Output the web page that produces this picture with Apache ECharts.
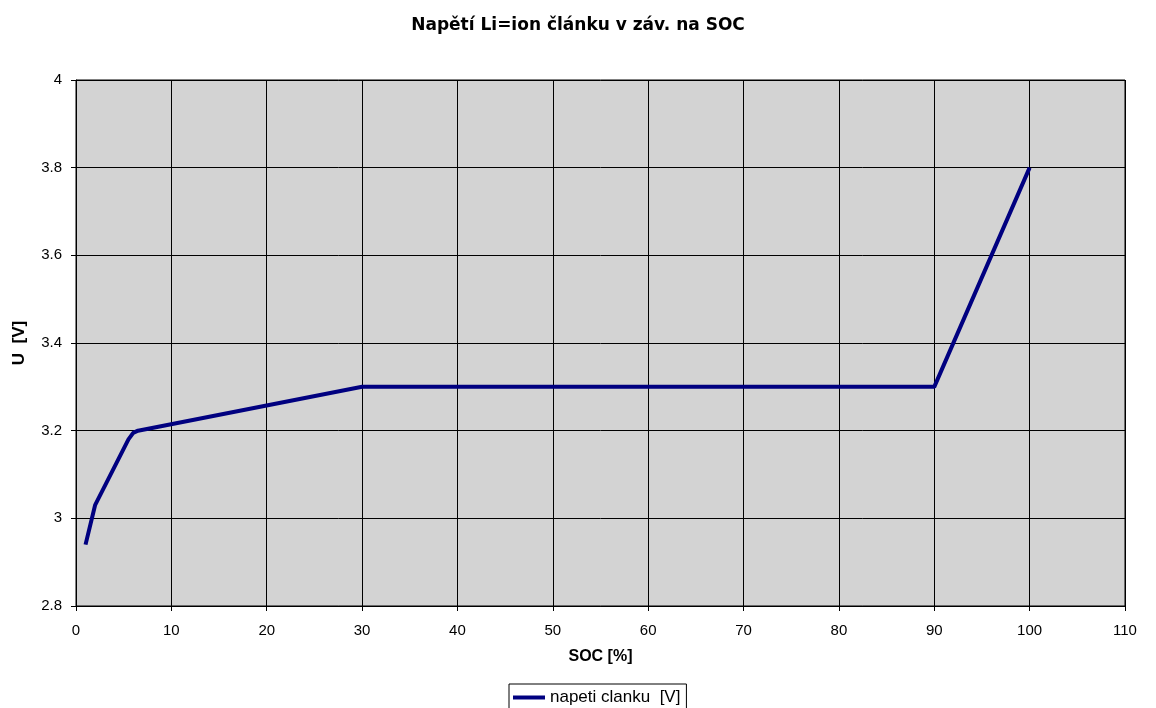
<!DOCTYPE html>
<html><head><meta charset="utf-8">
<script src="https://cdn.jsdelivr.net/npm/echarts@6/dist/echarts.min.js"></script>
<style>html,body{margin:0;padding:0;background:#fff}#c{width:1156px;height:708px}</style>
</head><body><div id="c"></div>
<script>
const socValues = [1, 2, 5.5, 6, 6.5, 30, 90, 100];
const voltageValues = [2.94, 3.03, 3.18, 3.195, 3.2, 3.3, 3.3, 3.8];
const seriesName = 'napeti clanku  [V]';
const titleText = 'Napětí Li=ion článku v záv. na SOC';

const chart = echarts.init(document.getElementById('c'));
const font = 'Liberation Sans, Arial, sans-serif';
chart.setOption({
  animation: false,
  title: { text: titleText, left: 'center', top: 12, textStyle: { fontFamily: 'DejaVu Sans', fontSize: 17, fontWeight: 'bold', color: '#000' } },
  grid: { left: 76, right: 31, top: 80, bottom: 102, show: true, backgroundColor: '#d3d3d3', borderColor: '#000', borderWidth: 1 },
  legend: { top: 684, left: 509, data: [seriesName], itemWidth: 32, itemHeight: 4, icon: 'rect', itemGap: 7,
    borderColor: '#000', borderWidth: 1, borderRadius: 0, padding: [5, 6, 12, 4],
    textStyle: { fontFamily: font, fontSize: 17, color: '#000' } },
  xAxis: { type: 'value', min: 0, max: 110, interval: 10, name: 'SOC [%]', nameLocation: 'middle', nameGap: 43,
    nameTextStyle: { fontFamily: font, fontSize: 16, fontWeight: 'bold', color: '#000' },
    axisLine: { lineStyle: { color: '#000' } }, axisTick: { show: true, length: 5, lineStyle: { color: '#000' } },
    axisLabel: { fontFamily: font, fontSize: 15, color: '#000', margin: 17 },
    splitLine: { show: true, lineStyle: { color: '#000', width: 1 } } },
  yAxis: { type: 'value', min: 2.8, max: 4, interval: 0.2, name: 'U  [V]', nameLocation: 'middle', nameGap: 48,
    nameTextStyle: { fontFamily: font, fontSize: 17, fontWeight: 'bold', color: '#000' },
    axisLine: { show: true, lineStyle: { color: '#000' } }, axisTick: { show: true, length: 5, lineStyle: { color: '#000' } },
    axisLabel: { fontFamily: font, fontSize: 15, color: '#000', margin: 14, formatter: v => String(Math.round(v * 10) / 10) },
    splitLine: { show: true, lineStyle: { color: '#000', width: 1 } } },
  series: [{ name: seriesName, type: 'line', data: socValues.map((x, i) => [x, voltageValues[i]]),
    showSymbol: false, symbol: 'none', lineStyle: { color: '#000080', width: 4 }, itemStyle: { color: '#000080' } }]
});
</script></body></html>
